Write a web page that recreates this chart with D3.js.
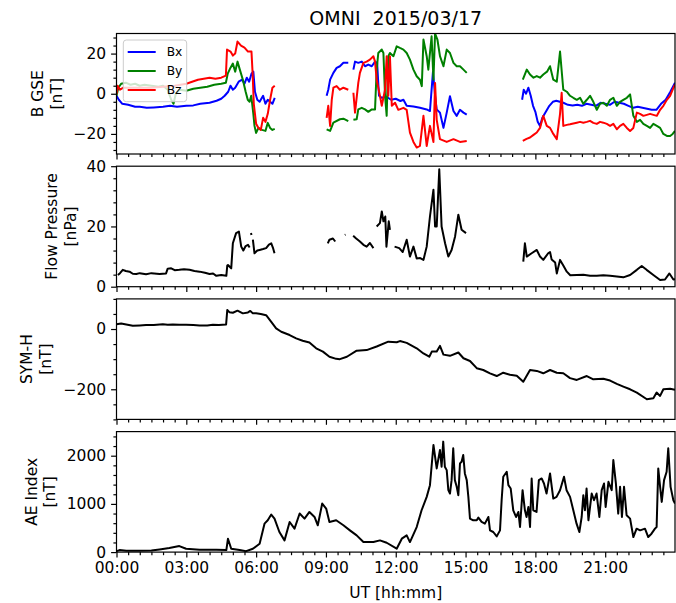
<!DOCTYPE html>
<html>
<head>
<meta charset="utf-8">
<script src="https://cdn.jsdelivr.net/npm/d3@7"></script>
<style>
  body { margin: 0; background: #fff; }
  text { font-family: "DejaVu Sans", sans-serif; fill: #000; }
</style>
</head>
<body>
<script>
// OMNI overview for 2015/03/17 (hour of day, value)
// null value = data gap

var bxData = [[0,-1],[0.1,-3],[0.25,-5],[0.5,-5.5],[0.8,-6.5],[1.0,-6.5],[1.3,-7],[1.6,-6.8],[2.0,-6.5],[2.3,-6],[2.6,-6.5],[3.0,-6],[3.3,-5.8],[3.6,-5],[4.0,-4.5],[4.3,-3.5],[4.5,-2.5],[4.65,-1],[4.8,1],[4.9,4],[5.0,2],[5.1,3],[5.25,6],[5.4,7],[5.5,5],[5.6,8],[5.7,6],[5.8,10],[5.88,11],[5.95,1],[6.05,-3],[6.15,-4],[6.3,-1],[6.4,-5],[6.5,-3],[6.6,-4],[6.7,-5],[6.8,-2],[6.9,null],
  [9.03,-1],[9.1,2],[9.18,7],[9.32,10.4],[9.46,12.9],[9.6,13.7],[9.75,15.4],[9.96,15.4],[10.05,null],[10.18,12],[10.25,16],[10.39,15.4],[10.54,16],[10.68,13.7],[10.82,14.5],[10.97,13.7],[11.11,16],[11.2,15.4],[11.28,-1],[11.4,-2],[11.6,-1.5],[11.8,-3],[12.0,-2.5],[12.2,-3.6],[12.33,-3],[12.47,-6],[12.76,-6.3],[13.04,-7],[13.33,-7.8],[13.47,-8.6],[13.6,11],[13.69,-1],[13.76,-7.8],[13.9,-9.4],[14.05,-17],[14.19,-9.4],[14.33,-1.2],[14.48,-8.6],[14.62,-11],[14.76,-8],[14.91,-9.4],[15.05,-10.4],[15.1,null],
  [17.43,-3],[17.5,2],[17.6,0],[17.7,3],[17.8,-1],[17.9,-6],[18.0,-9],[18.1,-14],[18.2,-16],[18.3,-12],[18.45,-9],[18.6,-6],[18.75,-4],[18.9,-3.5],[19.05,-4],[19.2,-4.5],[19.4,-5.5],[19.6,-5.8],[19.8,-5.5],[20.0,-6],[20.2,-5],[20.4,-5.5],[20.6,-6],[20.8,-4.5],[21.0,-5],[21.2,-5.5],[21.4,-4],[21.6,-4.5],[21.8,-5],[22.0,-6],[22.2,-7],[22.4,-6.5],[22.6,-7],[22.8,-7.5],[23.0,-8],[23.2,-8],[23.4,-5],[23.6,-3],[23.8,1],[24,5.5]];

var byData = [[0,-1],[0.08,3],[0.2,5],[0.4,5.5],[0.6,4.5],[0.8,5],[1.0,4],[1.2,4.5],[1.5,4],[1.8,3.5],[2.0,4],[2.2,2],[2.35,-3],[2.45,-5],[2.55,0],[2.7,2],[3.0,1.5],[3.3,2.5],[3.6,3],[3.9,3.5],[4.2,4.5],[4.5,5],[4.7,5.5],[4.78,10],[4.9,13],[5.0,15],[5.1,11],[5.2,16],[5.3,12],[5.43,7],[5.55,1],[5.64,-3],[5.72,-4],[5.79,-1],[5.88,-10],[5.93,-16],[6.0,-19.5],[6.1,-17],[6.25,-18],[6.4,-18.5],[6.5,-14.5],[6.6,-17],[6.7,-18],[6.8,-17.5],[6.9,null],
  [9.03,-17.7],[9.18,-18.5],[9.32,-14.4],[9.6,-12.7],[9.75,-12.4],[9.96,-13.6],[10.05,null],[10.18,-13],[10.32,-12.7],[10.39,-7.8],[10.54,-7],[10.68,-7.8],[10.82,-9],[10.97,-7.8],[11.11,-7.8],[11.18,12],[11.25,20.3],[11.4,22],[11.47,20.3],[11.54,-1],[11.61,-11],[11.68,18.7],[11.75,20.3],[11.9,18.7],[12.04,23.6],[12.18,22.8],[12.33,22],[12.47,20.3],[12.61,17],[12.76,12],[12.9,8.7],[13.04,7],[13.12,3.8],[13.19,27],[13.33,18.7],[13.4,12],[13.54,28.6],[13.62,7],[13.69,30],[13.79,27],[13.9,18.7],[14.05,13.7],[14.19,22],[14.33,20.3],[14.48,15.4],[14.62,13.7],[14.76,13.7],[14.91,12],[15.05,10.4],[15.1,null],
  [17.46,7],[17.63,12],[17.77,9.6],[17.92,8],[18.06,8.8],[18.2,8],[18.34,9.6],[18.5,11],[18.63,13.7],[18.77,7],[18.92,6],[19.06,21],[19.2,2],[19.35,1],[19.49,-1],[19.63,-2],[19.78,-3],[19.92,-2],[20.06,-5],[20.21,-3],[20.35,-1],[20.49,-4],[20.64,-8],[20.78,-5],[20.92,-4.5],[21.07,-6],[21.21,-3],[21.35,-2],[21.5,-6],[21.64,-4],[21.78,-3],[21.93,-2],[22.07,-0.3],[22.21,-11],[22.36,-14],[22.5,-13],[22.64,-15],[22.79,-16],[22.93,-17],[23.07,-15],[23.22,-16],[23.36,-17],[23.5,-20],[23.65,-21],[23.79,-21],[23.9,-20],[24,-18.5]];

var bzData = [[0,0],[0.05,4],[0.15,2],[0.3,3],[0.5,3],[1.0,3],[1.5,3],[2.0,3.5],[2.5,4],[3.0,5],[3.25,6],[3.5,7],[3.75,7.5],[4.0,8],[4.25,7.5],[4.5,8],[4.7,9],[4.75,22],[4.9,21],[5.0,19],[5.1,20],[5.2,26],[5.35,24],[5.5,23],[5.65,21],[5.8,21],[5.85,10],[5.9,-5],[6.0,-15],[6.1,-17],[6.2,-18],[6.3,-12],[6.4,-14],[6.5,-10],[6.6,-3],[6.7,3],[6.8,4],[6.9,null],
  [9.03,-12],[9.1,-6],[9.18,-16],[9.25,-3],[9.32,3],[9.46,3.8],[9.6,2],[9.75,3],[9.96,2],[10.05,null],[10.18,0.5],[10.25,-9.4],[10.39,5.4],[10.46,10.4],[10.61,15.4],[10.75,16],[10.89,17],[11.04,18.7],[11.11,16],[11.18,7],[11.32,-1],[11.4,-6],[11.54,2],[11.61,18.7],[11.68,-1],[11.75,18.7],[11.83,-6],[11.97,-4.5],[12.11,-8],[12.33,-7],[12.47,-8],[12.61,-19.4],[12.76,-24],[12.9,-26.8],[13.04,-26],[13.19,-11],[13.33,-26],[13.47,-16],[13.62,-24],[13.69,5.4],[13.76,-13],[13.9,-22.6],[14.19,-24],[14.48,-22.6],[14.76,-24],[15.05,-23.5],[15.1,null],
  [17.46,-23.5],[17.62,-22.5],[17.77,-21.8],[17.92,-20.5],[18.06,-19.3],[18.2,-17],[18.34,-11],[18.49,-16],[18.63,-17],[18.77,-20],[18.92,-22.6],[19.06,-10],[19.13,0.5],[19.2,-16],[19.35,-15.5],[19.49,-15.2],[19.63,-14.8],[19.78,-14.4],[19.92,-14],[20.06,-14.4],[20.21,-14],[20.35,-13.5],[20.49,-14.5],[20.64,-15],[20.78,-14],[20.92,-14.4],[21.07,-15],[21.21,-16],[21.35,-15],[21.5,-17.7],[21.64,-16],[21.78,-15],[21.93,-17],[22.07,-18.5],[22.21,-17],[22.36,-9.4],[22.5,-10],[22.64,-11],[22.79,-10.5],[22.93,-10],[23.07,-10.5],[23.22,-11],[23.36,-8],[23.5,-6],[23.65,-3],[23.79,-1],[23.9,2],[24,4.6]];

var pressureData = [[0.06,3.9],[0.15,4.5],[0.27,5.6],[0.4,5.2],[0.56,5],[0.7,4.3],[0.85,4.2],[1.0,4.5],[1.27,4.1],[1.5,4.5],[1.85,4.2],[2.13,4.4],[2.2,6],[2.35,6.1],[2.5,5.5],[2.7,5.6],[2.9,5.8],[3.14,5.6],[3.35,5.2],[3.57,5],[3.8,4.6],[4.0,4.2],[4.15,4.4],[4.29,3.6],[4.5,3.9],[4.72,3.6],[4.76,7],[4.79,7.2],[4.93,6.1],[5.0,14.4],[5.14,17.8],[5.26,18.3],[5.36,13.3],[5.45,12],[5.55,13.5],[5.65,13.9],[5.72,13],[5.76,null],[5.78,17.8],[5.8,17.2],[5.82,null],[5.86,15.6],[5.93,11.1],[6.05,12],[6.15,12.2],[6.3,12.5],[6.43,12.8],[6.55,14],[6.65,14.4],[6.72,13],[6.79,11.1],[6.85,null],
  [9.08,14.4],[9.15,15.6],[9.3,16],[9.4,15],[9.45,null],[9.81,17.2],[9.84,17.3],[9.86,null],[10.17,16.9],[10.3,16],[10.46,15],[10.61,13.9],[10.75,13.3],[10.89,14.5],[11.04,12.8],[11.1,null],[11.18,20],[11.32,21.1],[11.4,25],[11.47,21.7],[11.55,23.3],[11.6,13.3],[11.7,21.7],[11.75,18.9],[11.8,null],[11.95,13.3],[12.15,12.8],[12.3,11.5],[12.47,15.6],[12.61,10],[12.76,13.3],[12.9,9.4],[13.05,9.5],[13.19,8.9],[13.33,13.3],[13.47,23.3],[13.62,32.2],[13.69,20],[13.76,20],[13.87,39],[13.97,20],[14.12,14.4],[14.26,10],[14.4,12.2],[14.55,16.7],[14.69,23.9],[14.83,18.9],[15.02,17.8],[15.1,null],
  [17.48,8.3],[17.55,14.4],[17.63,10],[17.84,11.1],[18.06,12.2],[18.2,10],[18.34,8.9],[18.55,11.1],[18.63,11.5],[18.7,9],[18.85,8],[18.92,4.4],[19.06,8.9],[19.2,7],[19.35,5],[19.5,3.8],[19.78,3.9],[20.06,4],[20.35,3.6],[20.64,3.6],[20.92,3.8],[21.21,3.6],[21.5,3.4],[21.78,3.1],[22.07,3.9],[22.36,5.6],[22.57,6.9],[22.78,5.6],[23.07,3.9],[23.36,2.2],[23.57,2.4],[23.76,4.4],[23.93,2.4],[24,2.5]];

var symhData = [[0,16],[0.2,18],[0.42,15],[0.7,11],[1.0,12],[1.27,13],[1.6,13],[1.99,16],[2.2,14],[2.42,15],[2.7,14],[2.99,14],[3.3,13],[3.57,12],[3.9,12],[4.14,14],[4.4,13],[4.71,15],[4.76,63],[4.85,56],[5.0,54],[5.2,61],[5.43,52],[5.65,55],[5.75,60],[5.86,52],[6.0,52],[6.2,50],[6.43,46],[6.65,24],[6.86,2],[7.08,-9],[7.44,-20],[7.72,-31],[8.0,-39],[8.29,-45],[8.58,-64],[8.87,-75],[9.15,-92],[9.44,-99],[9.6,-100],[9.9,-92],[10.32,-72],[10.75,-70],[11.18,-58],[11.68,-42],[12.04,-44],[12.18,-40],[12.47,-46],[12.9,-64],[13.19,-81],[13.44,-92],[13.55,-75],[13.76,-75],[13.9,-56],[14.05,-85],[14.33,-89],[14.69,-78],[14.91,-97],[15.19,-106],[15.48,-130],[15.76,-136],[16.05,-147],[16.34,-156],[16.62,-145],[16.91,-152],[17.2,-155],[17.48,-175],[17.77,-136],[18.06,-139],[18.34,-147],[18.63,-136],[18.92,-145],[19.2,-147],[19.49,-163],[19.78,-169],[20.21,-156],[20.49,-167],[20.92,-165],[21.21,-171],[21.5,-182],[21.78,-191],[22.07,-200],[22.36,-211],[22.79,-233],[23.07,-230],[23.21,-211],[23.36,-222],[23.5,-200],[23.79,-198],[24,-202]];

var aeData = [[0,20],[0.13,42],[0.42,28],[1.0,28],[1.5,35],[1.85,56],[2.27,83],[2.7,125],[2.99,70],[3.57,49],[4.29,49],[4.72,42],[4.79,278],[4.93,70],[5.29,42],[5.57,20],[5.86,70],[6.15,174],[6.36,590],[6.5,660],[6.65,778],[6.79,694],[7.0,417],[7.22,243],[7.44,625],[7.65,486],[7.87,800],[8.08,694],[8.29,833],[8.51,729],[8.65,556],[8.84,1007],[9.01,903],[9.15,625],[9.44,660],[9.75,556],[10.03,451],[10.32,347],[10.61,208],[11.04,208],[11.32,243],[11.61,194],[12.04,70],[12.26,278],[12.47,347],[12.61,208],[12.9,520],[13.11,868],[13.33,1146],[13.47,1389],[13.62,2222],[13.76,1736],
  [13.9,2118],[13.97,1771],[14.04,2292],[14.11,1771],[14.19,1701],[14.26,1285],[14.33,1215],[14.4,1493],[14.47,2153],[14.54,1493],[14.62,1354],[14.69,1180],[14.76,1840],[14.83,1875],[14.9,2014],[14.97,1632],[15.05,1493],[15.12,1146],[15.19,694],[15.33,660],[15.48,660],[15.55,715],[15.69,625],[15.83,590],[15.98,729],[16.05,451],[16.19,417],[16.34,326],[16.48,451],[16.55,1076],[16.62,1563],[16.77,1667],[16.84,1389],[16.94,1319],[17.05,868],[17.17,729],[17.27,833],[17.34,521],[17.45,1285],[17.55,868],[17.62,729],[17.7,937],[17.77,521],[17.84,1528],[17.91,868],[18.05,833],[18.15,1493],[18.27,1528],[18.37,1424],[18.48,1215],[18.63,1632],[18.77,1111],[18.91,1146],[19.06,1285],[19.23,1563],[19.34,1285],[19.49,1146],[19.63,868],[19.77,590],[19.89,417],[19.99,729],[20.06,1180],[20.13,868],[20.2,1319],[20.28,660],[20.42,1215],[20.52,1076],[20.63,1215],[20.75,729],[20.85,1285],[20.95,1424],[21.02,937],[21.14,1458],[21.28,1285],[21.35,1910],[21.46,1424],[21.56,799],[21.64,1354],[21.72,729],[21.81,1354],[21.92,764],[22.07,694],[22.21,312],[22.35,486],[22.5,451],[22.71,486],[22.85,312],[22.99,382],[23.14,486],[23.21,521],[23.28,1736],[23.36,1354],[23.43,1042],[23.53,1493],[23.64,1667],[23.71,2153],[23.81,1354],[23.93,1076],[24,1007]];

var seriesNames = ["Bx", "By", "Bz"];
var hourTicks = [0, 3, 6, 9, 12, 15, 18, 21];
var hourLabels = ["00:00", "03:00", "06:00", "09:00", "12:00", "15:00", "18:00", "21:00"];

var W = 676, H = 603;
var left = 116.5, right = 675;
var panelTop = 33.5, panelH = 120.5, panelStep = 132.7;

var svg = d3.select("body").append("svg").attr("width", W).attr("height", H);

var x = d3.scaleLinear().domain([0, 24]).range([left, right]);

var panels = [
  {label: ["B GSE", "[nT]"], labelX: [38, 57], domain: [-30, 30], major: 20, minor: 4,
   series: [{data: bxData, color: "blue"}, {data: byData, color: "green"}, {data: bzData, color: "red"}]},
  {label: ["Flow Pressure", "[nPa]"], labelX: [52, 71], domain: [0, 40], major: 20, minor: 4,
   series: [{data: pressureData, color: "black"}]},
  {label: ["SYM-H", "[nT]"], labelX: [27, 46], domain: [-300, 100], major: 200, minor: 50,
   series: [{data: symhData, color: "black"}]},
  {label: ["AE Index", "[nT]"], labelX: [32, 50], domain: [0, 2500], major: 1000, minor: 200,
   series: [{data: aeData, color: "black"}]}
];

function ticksFor(domain, step) {
  var out = [];
  for (var v = Math.ceil(domain[0] / step) * step; v <= domain[1] + 1e-9; v += step) out.push(v);
  return out;
}

panels.forEach(function(p, i) {
  var top = panelTop + i * panelStep, bottom = top + panelH;
  var y = d3.scaleLinear().domain(p.domain).range([bottom, top]);
  var g = svg.append("g");

  g.append("clipPath").attr("id", "clip" + i)
    .append("rect").attr("x", left).attr("y", top).attr("width", right - left).attr("height", panelH);

  var line = d3.line()
    .defined(function(d) { return d[1] !== null; })
    .x(function(d) { return x(d[0]); })
    .y(function(d) { return y(d[1]); });

  p.series.forEach(function(s) {
    g.append("path").datum(s.data)
      .attr("clip-path", "url(#clip" + i + ")")
      .attr("fill", "none").attr("stroke", s.color)
      .attr("stroke-width", 2).attr("stroke-linejoin", "round")
      .attr("d", line);
  });

  // y axis: major + minor
  var majors = ticksFor(p.domain, p.major);
  var minors = ticksFor(p.domain, p.minor).filter(function(v) { return majors.indexOf(v) < 0; });
  g.append("g").attr("transform", "translate(" + left + ",0)")
    .call(d3.axisLeft(y).tickValues(majors).tickSize(5.4).tickPadding(5).tickFormat(d3.format("d")));
  g.append("g").attr("transform", "translate(" + left + ",0)")
    .call(d3.axisLeft(y).tickValues(minors).tickSize(3.1).tickFormat(""));

  // x axis: bottom ticks on every panel, labels on last only
  var xAxis = d3.axisBottom(x).tickValues(hourTicks).tickSize(5.4).tickPadding(5)
    .tickFormat(function(d, k) { return i === panels.length - 1 ? hourLabels[k] : ""; });
  g.append("g").attr("transform", "translate(0," + bottom + ")").call(xAxis);
  g.append("g").attr("transform", "translate(0," + bottom + ")")
    .call(d3.axisBottom(x).tickValues(d3.range(0.5, 24, 0.5).filter(function(h) { return h % 3 !== 0; }))
      .tickSize(3.1).tickFormat(""));

  g.selectAll(".domain").remove();
  g.selectAll(".tick line").attr("stroke", "#000").attr("stroke-width", 1.2);
  g.selectAll(".tick text").attr("font-family", "DejaVu Sans").attr("font-size", "15.5px").attr("fill", "#000");

  g.append("rect").attr("x", left).attr("y", top).attr("width", right - left).attr("height", panelH)
    .attr("fill", "none").attr("stroke", "#000").attr("stroke-width", 1.2);

  p.label.forEach(function(txt, k) {
    g.append("text")
      .attr("transform", "translate(" + p.labelX[k] + "," + (top + panelH / 2) + ") rotate(-90)")
      .attr("text-anchor", "middle").attr("dominant-baseline", "central")
      .attr("font-size", "15.5px").text(txt);
  });

  if (i === 0) {
    var lg = g.append("g");
    lg.append("rect").attr("x", 123.3).attr("y", 40).attr("width", 63.4).attr("height", 61.7).attr("rx", 3)
      .attr("fill", "#fff").attr("fill-opacity", 0.8).attr("stroke", "#cccccc").attr("stroke-width", 1);
    seriesNames.forEach(function(name, k) {
      var ly = 52 + k * 19;
      lg.append("line").attr("x1", 127.7).attr("x2", 155.7).attr("y1", ly).attr("y2", ly)
        .attr("stroke", p.series[k].color).attr("stroke-width", 2);
      lg.append("text").attr("x", 166.7).attr("y", ly).attr("dominant-baseline", "central")
        .attr("font-size", "12.3px").text(name);
    });
  }
});

svg.append("text").attr("x", (left + right) / 2).attr("y", 25).attr("text-anchor", "middle")
  .attr("font-size", "19px").style("white-space", "pre").text("OMNI  2015/03/17");

svg.append("text").attr("x", (left + right) / 2).attr("y", 598).attr("text-anchor", "middle")
  .attr("font-size", "15.5px").text("UT [hh:mm]");
</script>
</body>
</html>
